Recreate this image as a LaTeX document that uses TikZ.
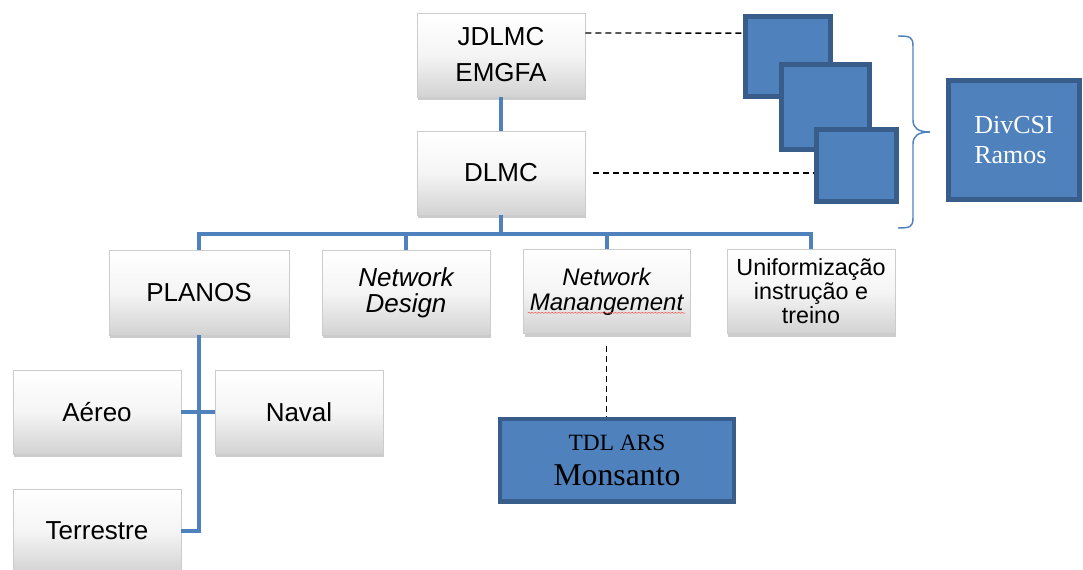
\documentclass[tikz,border=0pt]{standalone}
\usepackage{fontspec}
\setmainfont{Liberation Serif}
\setsansfont{Liberation Sans}
\usetikzlibrary{shadows,decorations.pathmorphing}
\definecolor{msblue}{HTML}{4F81BD}
\definecolor{msdark}{HTML}{385D8A}
\begin{document}
\begin{tikzpicture}[x=0.75pt,y=-0.75pt,
    box/.style={draw=gray!40, line width=0.4pt, top color=white, bottom color=gray!35, middle color=gray!8,
        minimum width=126pt, minimum height=63pt, inner sep=0pt, align=center,
        font=\sffamily\fontsize{19.5}{21}\selectfont,
        drop shadow={shadow xshift=1pt, shadow yshift=-2.5pt, opacity=0.5, fill=gray!80}},
    bluebox/.style={draw=msdark, line width=3.5pt, fill=msblue, inner sep=0pt, align=center},
    link/.style={draw=msblue, line width=3pt},
    dline/.style={draw=black, line width=1pt, dash pattern=on 4.5pt off 3pt}]
\useasboundingbox (0,0) rectangle (1083,570);

% chefias
\node[box, font=\sffamily\fontsize{19.5}{27}\selectfont] (jd) at (501,55) {JDLMC\\EMGFA};
\node[box] (dl) at (501,173) {DLMC};

% areas
\node[box, minimum width=135pt, minimum height=64pt] (planos) at (199,292.5) {PLANOS};
\node[box, minimum height=64pt, font=\sffamily\itshape\fontsize{19.5}{19.5}\selectfont] (nd) at (406,292.5) {Network\\Design};
\node[box, minimum width=125pt, font=\sffamily\itshape\fontsize{18}{18.75}\selectfont] (nm) at (606.5,291.5) {Network\\Manangement};
\node[box, font=\sffamily\fontsize{17.5}{18}\selectfont] (unif) at (811,291.5) {Uniformização\\instrução e\\treino};

% ramos
\node[box] (aereo) at (97,412) {Aéreo};
\node[box] (naval) at (299,412) {Naval};
\node[box] (terr) at (97,531) {Terrestre};

% azuis
\node[bluebox, minimum width=175.5pt, minimum height=62pt, font=\fontsize{17.5}{26}\selectfont] (tdl) at (617,460.5)
    {TDL ARS\\\fontsize{23.8}{26}\selectfont Monsanto};
\node[bluebox, minimum width=64pt, minimum height=60pt] (sqa) at (788,56.5) {};
\node[bluebox, minimum width=66pt, minimum height=64pt] (sqb) at (825.5,107) {};
\node[bluebox, minimum width=60pt, minimum height=54pt] (sqc) at (856.5,165.5) {};
\node[bluebox, minimum width=98pt, minimum height=89pt, align=left, text=white,
    font=\fontsize{19.5}{23}\selectfont] (div) at (1014,140) {DivCSI\\Ramos};

% ligacoes
\coordinate (bus) at (501,234);
\draw[link] (jd.south) -- (dl.north);
\draw[link] (dl.south) -- (bus);
\draw[link] (planos.north) |- (bus) -| (unif.north);
\draw[link] (nd.north) -- (nd.north |- bus);
\draw[link] (nm.north) -- (nm.north |- bus);
\draw[link] (planos.south) |- (terr.east);
\draw[link] (aereo.east) -- (naval.west);

\draw[dline] ([yshift=16.5pt]jd.east) -- ([yshift=17.5pt]sqa.west);
\draw[dline, shorten <=6pt] (dl.east) -- (sqc.west |- dl.east);
\draw[dline, shorten <=9pt] (nm.south) -- (nm.south |- tdl.north);

% chaveta
\draw[msblue, line width=1.1pt]
    (898,36) .. controls (910,36) and (913,37) .. (913,46) -- (913,120)
    .. controls (913,128) and (918,132) .. (930,132)
    .. controls (918,132) and (913,136) .. (913,144) -- (913,218)
    .. controls (913,227) and (910,228) .. (898,228);

\draw[red!70, line width=0.35pt, decorate, decoration={snake, amplitude=0.4pt, segment length=2.5pt}]
    ([xshift=-59pt,yshift=-16pt]nm.center) -- ([xshift=59pt,yshift=-16pt]nm.center);
\end{tikzpicture}
\end{document}
